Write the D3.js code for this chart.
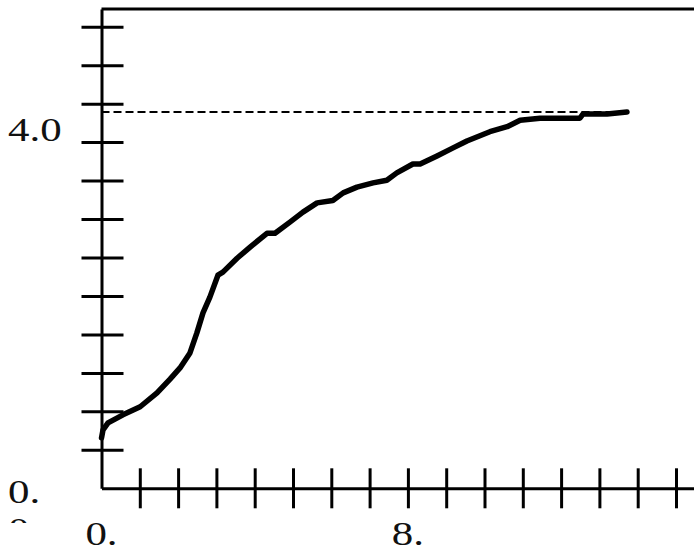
<!DOCTYPE html>
<html>
<head>
<meta charset="utf-8">
<script src="https://cdn.jsdelivr.net/npm/d3@7"></script>
<style>
  body { margin: 0; background: #fff; }
  text { font-family: "Liberation Serif", "Times New Roman", serif; fill: #111; }
</style>
</head>
<body>
<div id="chart"></div>
<script>
// Valeurs (unités = nombre de graduations)
var curveX = [0, 0.04, 0.17, 0.56, 1.01, 1.45, 1.79, 2.05, 2.31, 2.49, 2.65, 2.83, 3.04, 3.17, 3.54, 3.88,
  4.32, 4.53, 4.92, 5.26, 5.63, 6.04, 6.31, 6.67, 7.09, 7.45, 7.71, 8.13, 8.32, 8.76, 9.18, 9.54,
  10.14, 10.59, 10.93, 11.45, 12.49, 12.57, 13.20, 13.72];
var curveY = [1.31, 1.52, 1.70, 1.91, 2.12, 2.48, 2.84, 3.13, 3.52, 4.04, 4.56, 4.97, 5.54, 5.62, 5.98, 6.27,
  6.63, 6.63, 6.92, 7.18, 7.42, 7.48, 7.68, 7.83, 7.94, 8.01, 8.20, 8.43, 8.43, 8.64, 8.85, 9.03,
  9.27, 9.40, 9.57, 9.62, 9.62, 9.73, 9.73, 9.78];

// Asymptote en pointillés
var asymptote = 9.78;

// Graduations
var xTicks = d3.range(1, 16);
var yTicks = d3.range(1, 13);

// Étiquettes des axes
var xLabels = ["0.", "8."];
var xLabelValues = [0, 8];
var yLabels = ["4.0", "0."];
var yLabelValues = [9.42, 0];

var width = 694, height = 550;

var svg = d3.select("#chart")
    .append("svg")
    .attr("width", width)
    .attr("height", height);

var x = d3.scaleLinear().domain([0, 15.47]).range([101.5, 694]);
var y = d3.scaleLinear().domain([0, 12.46]).range([488.3, 9]);

// Axe X : graduations qui traversent l'axe
var gx = svg.append("g")
    .attr("transform", "translate(0," + y(0) + ")")
    .call(d3.axisBottom(x).tickValues(xTicks).tickSizeInner(20).tickSizeOuter(0).tickFormat(""));
gx.select(".domain").attr("stroke", "#000").attr("stroke-width", 3);
gx.selectAll(".tick line").attr("y1", -20).attr("stroke", "#000").attr("stroke-width", 3);

// Axe Y
var gy = svg.append("g")
    .attr("transform", "translate(" + x(0) + ",0)")
    .call(d3.axisLeft(y).tickValues(yTicks).tickSizeInner(20).tickSizeOuter(0).tickFormat(""));
gy.select(".domain").attr("stroke", "#000").attr("stroke-width", 3);
gy.selectAll(".tick line").attr("x1", 22).attr("stroke", "#000").attr("stroke-width", 3);

// Bord supérieur
svg.append("line")
    .attr("x1", x(0)).attr("x2", x(15.47))
    .attr("y1", y(12.46)).attr("y2", y(12.46))
    .attr("stroke", "#000").attr("stroke-width", 3);

// Ligne pointillée
svg.append("line")
    .attr("x1", x(0)).attr("x2", x(curveX[curveX.length - 1]))
    .attr("y1", y(asymptote)).attr("y2", y(asymptote))
    .attr("stroke", "#000").attr("stroke-width", 2)
    .attr("stroke-dasharray", "8,4");

// Courbe
var pts = curveX.map(function (d, i) { return [d, curveY[i]]; });
svg.append("path")
    .datum(pts)
    .attr("fill", "none")
    .attr("stroke", "#000")
    .attr("stroke-width", 5.5)
    .attr("stroke-linejoin", "round")
    .attr("stroke-linecap", "round")
    .attr("d", d3.line().x(function (d) { return x(d[0]); }).y(function (d) { return y(d[1]); }));

// Étiquettes X (police un peu étirée comme sur l'original)
svg.selectAll(".xlab")
    .data(xLabels)
    .enter()
    .append("text")
    .attr("class", "xlab")
    .attr("transform", function (d, i) { return "translate(" + x(xLabelValues[i]) + ",545) scale(1.3,1)"; })
    .attr("text-anchor", "middle")
    .style("font-size", "33px")
    .text(function (d) { return d; });

// Étiquettes Y
svg.append("clipPath").attr("id", "ylabclip")
    .append("rect").attr("x", 0).attr("y", 0).attr("width", 90).attr("height", 523);

var gyl = svg.append("g").attr("clip-path", "url(#ylabclip)");
gyl.selectAll(".ylab")
    .data(yLabels)
    .enter()
    .append("text")
    .attr("class", "ylab")
    .attr("transform", function (d, i) { return "translate(8," + (y(yLabelValues[i]) + 15) + ") scale(1.3,1)"; })
    .style("font-size", "33px")
    .text(function (d) { return d; });
// seconde ligne coupée sous "0."
gyl.append("text")
    .attr("transform", "translate(8," + (y(0) + 53) + ") scale(1.3,1)")
    .style("font-size", "33px")
    .text("0");
</script>
</body>
</html>
